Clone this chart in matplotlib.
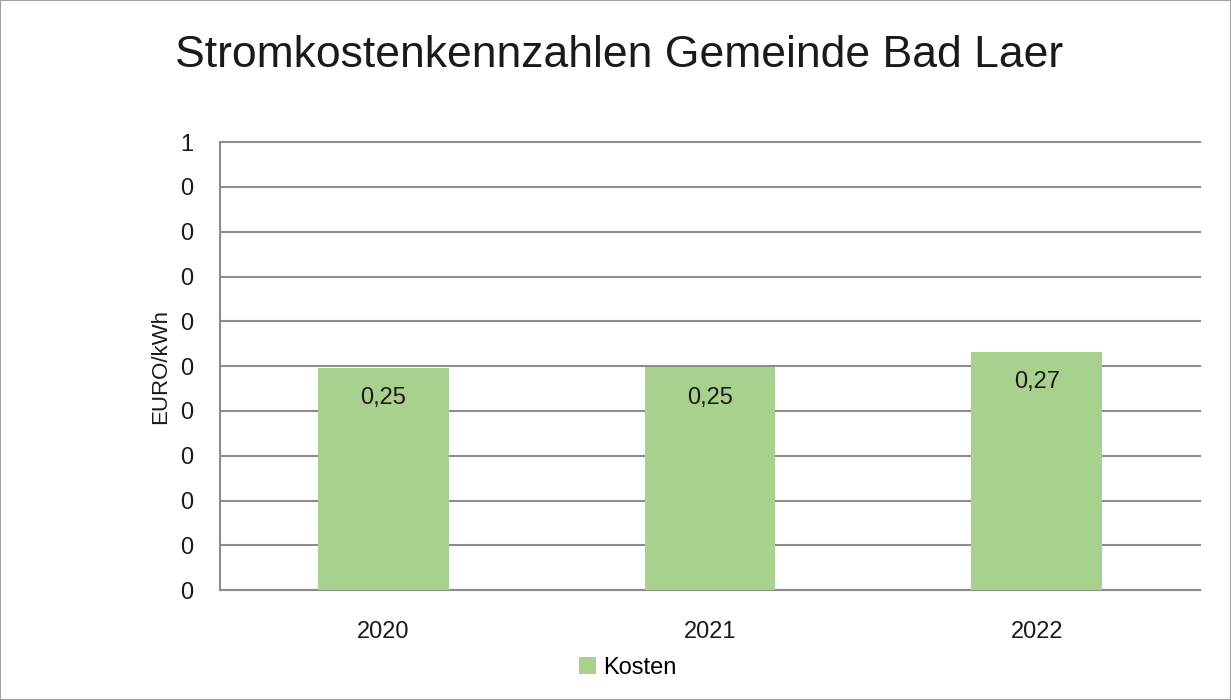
import numpy as np
import matplotlib.pyplot as plt
from matplotlib.patches import Rectangle

# data
years = ['2020', '2021', '2022']
kosten = [0.248, 0.249, 0.266]
yticks = [0, 0.05, 0.1, 0.15, 0.2, 0.25, 0.3, 0.35, 0.4, 0.45, 0.5]
ytick_labels = ['0', '0', '0', '0', '0', '0', '0', '0', '0', '0', '1']

bar_color = '#A9D18E'
grid_color = '#8C8C8C'

plt.rcParams['font.family'] = ['Liberation Sans', 'DejaVu Sans']

fig = plt.figure(figsize=(12.31, 7), dpi=100)
ax = fig.add_axes([0.1787, 0.157, 0.7961, 0.640])

x = np.arange(len(years))
bars = ax.bar(x, kosten, width=0.4, color=bar_color, label='Kosten', zorder=3)

for xi, v in zip(x, kosten):
    ax.annotate(f'{v:.2f}'.replace('.', ','), (xi, v), xytext=(0, -22),
                textcoords='offset points', ha='center', va='center',
                fontsize=17, color='#1a1a1a', zorder=4)

ax.set_xlim(-0.5, len(years) - 0.5)
ax.set_ylim(0, 0.5)
ax.set_yticks(yticks)
ax.set_yticklabels(ytick_labels)
ax.set_xticks(x)
ax.set_xticklabels(years)
ax.tick_params(axis='both', length=0, labelsize=17, colors='#1a1a1a')
ax.tick_params(axis='y', pad=19)
ax.tick_params(axis='x', pad=22)
ax.yaxis.grid(True, color=grid_color, linewidth=1.5, zorder=0)
for gl in ax.get_ygridlines():
    gl.set_clip_on(False)

for s in ['top', 'right']:
    ax.spines[s].set_visible(False)
ax.spines['left'].set_color(grid_color)
ax.spines['left'].set_linewidth(1.5)
ax.spines['bottom'].set_color(grid_color)
ax.spines['bottom'].set_linewidth(1.5)

ax.set_ylabel('EURO/kWh', fontsize=16, color='#1a1a1a', labelpad=7)

fig.text(0.503, 0.921, 'Stromkostenkennzahlen Gemeinde Bad Laer', fontsize=32,
         ha='center', va='center', color='#1a1a1a')

fig.legend(loc='center', bbox_to_anchor=(0.51, 0.046), frameon=False,
           fontsize=17, handlelength=0.7, handleheight=0.7, handletextpad=0.3)

fig.patches.append(Rectangle((0, 0), 1, 1, transform=fig.transFigure,
                             fill=False, edgecolor='#A0A0A0', linewidth=1.5))

fig.savefig('out.png', dpi=100)
